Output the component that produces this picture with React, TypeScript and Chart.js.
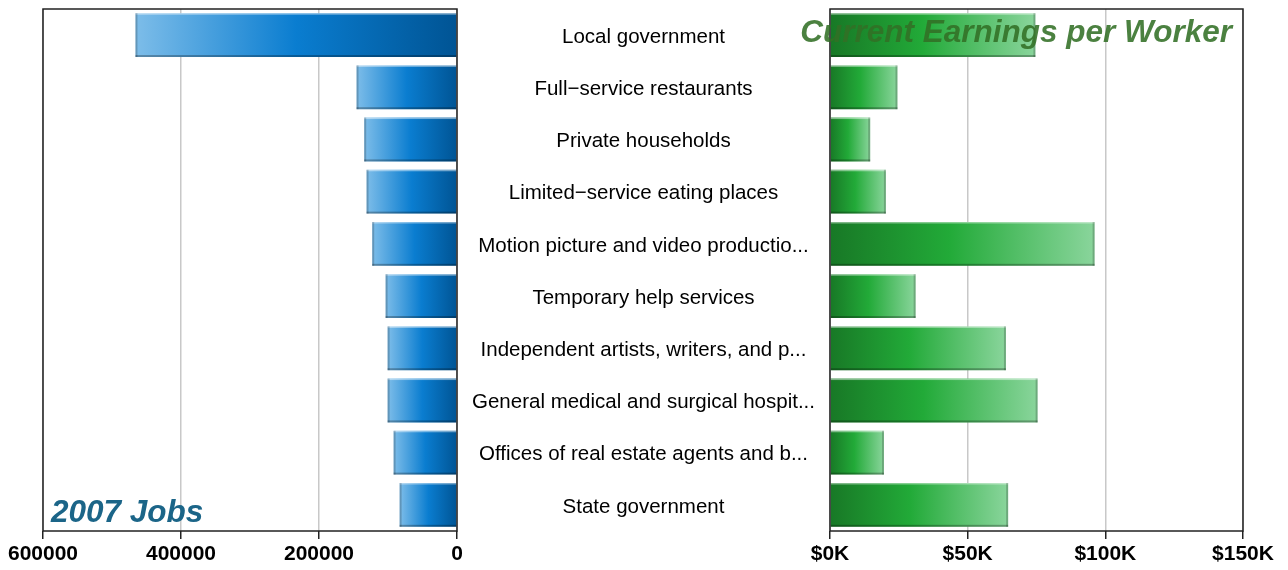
import React, { useEffect, useRef } from "react";
import { Chart, registerables } from "chart.js";
Chart.register(...registerables);

const categories = [
  "Local government",
  "Full\u2212service restaurants",
  "Private households",
  "Limited\u2212service eating places",
  "Motion picture and video productio...",
  "Temporary help services",
  "Independent artists, writers, and p...",
  "General medical and surgical hospit...",
  "Offices of real estate agents and b...",
  "State government",
];
const jobs2007 = [466000, 145600, 134500, 131100, 122900, 103500, 100600, 100600, 91900, 83200];
const earnings = [74600, 24500, 14600, 20300, 96100, 31100, 63900, 75400, 19600, 64700];
const jobsMax = 600000;
const jobsStep = 200000;
const earnMax = 150000;
const earnStep = 50000;
const leftTitle = "2007 Jobs";
const rightTitle = "Current Earnings per Worker";

const TICK_FONT = { family: "'Liberation Sans', Arial, sans-serif", size: 21, weight: "bold" as const };
const LABEL_FONT = { family: "'Liberation Sans', Arial, sans-serif", size: 20.5, weight: "normal" as const };

function makeGradient(c: any, stops: [number, string][], fromOuter: boolean, fallback: string) {
  const chart = c.chart;
  const xs = chart.scales && chart.scales.x;
  if (!xs || c.raw == null) return fallback;
  const x1 = xs.getPixelForValue(c.raw);
  const x0 = xs.getPixelForValue(0);
  if (!Number.isFinite(x1) || !Number.isFinite(x0) || x1 === x0) return fallback;
  const g = fromOuter ? chart.ctx.createLinearGradient(x1, 0, x0, 0) : chart.ctx.createLinearGradient(x0, 0, x1, 0);
  stops.forEach(([o, col]) => g.addColorStop(o, col));
  return g;
}

function makePlugin(title: string, color: string, pos: "bl" | "tr") {
  return {
    id: "decor" + pos,
    afterDatasetsDraw(chart: any) {
      const { ctx, chartArea } = chart;
      const meta = chart.getDatasetMeta(0);
      ctx.save();
      meta.data.forEach((el: any) => {
        const { x, y, base, height } = el.getProps(["x", "y", "base", "height"], true);
        const l = Math.min(x, base);
        const r = Math.max(x, base);
        const t = y - height / 2;
        const b = y + height / 2;
        ctx.fillStyle = "rgba(255,255,255,0.45)";
        ctx.fillRect(l, t, r - l, 1.5);
        ctx.fillStyle = "rgba(0,0,0,0.28)";
        ctx.fillRect(l, b - 2, r - l, 2);
        const ox = x < base ? l : r - 2;
        ctx.fillStyle = "rgba(0,0,0,0.2)";
        ctx.fillRect(ox, t, 2, height);
      });
      ctx.strokeStyle = "#222";
      ctx.lineWidth = 1.5;
      ctx.strokeRect(chartArea.left, chartArea.top, chartArea.right - chartArea.left, chartArea.bottom - chartArea.top);
      ctx.font = "italic bold 31.5px 'Liberation Sans', Arial, sans-serif";
      ctx.fillStyle = color;
      ctx.textBaseline = "alphabetic";
      if (pos === "bl") {
        ctx.textAlign = "left";
        ctx.fillText(title, chartArea.left + 8, chartArea.bottom - 9);
      } else {
        ctx.textAlign = "right";
        ctx.fillText(title, chartArea.right - 11, chartArea.top + 33);
      }
      ctx.restore();
    },
  };
}

export default function App() {
  const leftRef = useRef<HTMLCanvasElement>(null);
  const rightRef = useRef<HTMLCanvasElement>(null);

  useEffect(() => {
    document.body.style.margin = "0";
    const xGrid = {
      color: "#c8c8c8",
      lineWidth: 1.5,
      tickColor: "#222",
      tickLength: 8,
      tickWidth: 1.5,
    };

    const left = new Chart(leftRef.current!, {
      type: "bar",
      data: {
        labels: categories,
        datasets: [
          {
            data: jobs2007,
            backgroundColor: (c: any) =>
              makeGradient(c, [[0, "#7dbde9"], [0.5, "#0a7dd0"], [1, "#005494"]], true, "#0a7dd0"),
            borderWidth: 0,
            barPercentage: 0.84,
            categoryPercentage: 1,
          },
        ],
      },
      options: {
        animation: false,
        responsive: false,
        indexAxis: "y",
        layout: { padding: { left: 43, right: 13, top: 9, bottom: 0 } },
        plugins: { legend: { display: false }, tooltip: { enabled: false } },
        scales: {
          x: {
            min: 0,
            max: jobsMax,
            reverse: true,
            grid: xGrid,
            border: { display: false },
            ticks: {
              stepSize: jobsStep,
              color: "#000",
              font: TICK_FONT,
              padding: 3,
              maxRotation: 0,
              callback: (v: any) => String(v),
            },
            afterFit: (s: any) => {
              s.height = 39;
            },
          },
          y: { display: false },
        },
      },
      plugins: [makePlugin(leftTitle, "#1b6588", "bl")],
    } as any);

    const right = new Chart(rightRef.current!, {
      type: "bar",
      data: {
        labels: categories,
        datasets: [
          {
            data: earnings,
            backgroundColor: (c: any) =>
              makeGradient(c, [[0, "#187826"], [0.45, "#22aa38"], [1, "#8ad59c"]], false, "#22aa38"),
            borderWidth: 0,
            barPercentage: 0.84,
            categoryPercentage: 1,
          },
        ],
      },
      options: {
        animation: false,
        responsive: false,
        indexAxis: "y",
        layout: { padding: { left: 0, right: 45, top: 9, bottom: 0 } },
        plugins: { legend: { display: false }, tooltip: { enabled: false } },
        scales: {
          x: {
            min: 0,
            max: earnMax,
            grid: xGrid,
            border: { display: false },
            ticks: {
              stepSize: earnStep,
              color: "#000",
              font: TICK_FONT,
              padding: 3,
              maxRotation: 0,
              callback: (v: any) => "$" + Number(v) / 1000 + "K",
            },
            afterFit: (s: any) => {
              s.height = 39;
            },
          },
          y: {
            grid: { display: false, drawTicks: false },
            border: { display: false },
            ticks: {
              color: "#000",
              font: LABEL_FONT,
              crossAlign: "center",
              padding: 15,
              labelOffset: 2,
              autoSkip: false,
            },
            afterFit: (s: any) => {
              s.width = 370;
              s.paddingTop = 0;
              s.paddingBottom = 0;
            },
          },
        },
      },
      plugins: [makePlugin(rightTitle, "rgba(50,112,38,0.88)", "tr")],
    } as any);

    return () => {
      left.destroy();
      right.destroy();
    };
  }, []);

  return (
    <div style={{ position: "relative", width: 1288, height: 570, background: "#fff" }}>
      <canvas
        ref={leftRef}
        width={470}
        height={570}
        style={{ position: "absolute", left: 0, top: 0, width: 470, height: 570 }}
      />
      <canvas
        ref={rightRef}
        width={828}
        height={570}
        style={{ position: "absolute", left: 460, top: 0, width: 828, height: 570 }}
      />
    </div>
  );
}
